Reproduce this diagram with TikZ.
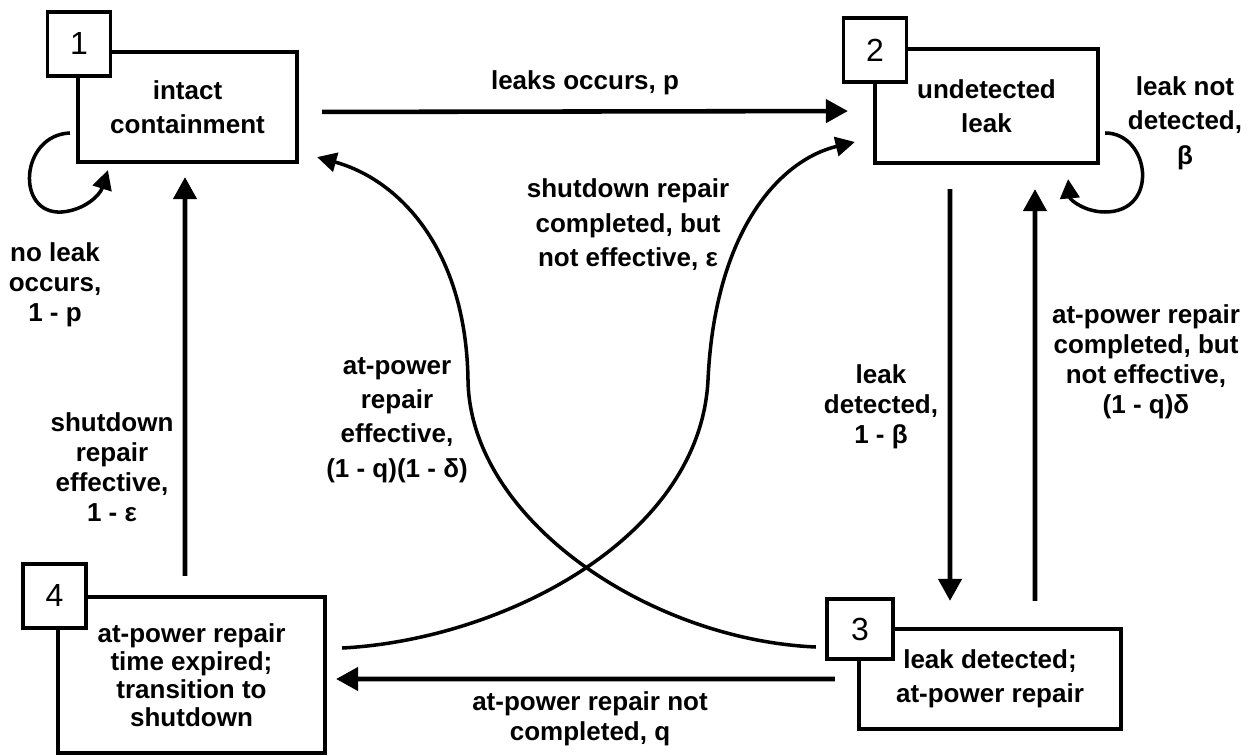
\documentclass[tikz,border=0pt]{standalone}
\usepackage{fontspec}
\setmainfont{Liberation Sans}
\usetikzlibrary{arrows.meta}
\newcommand{\numfont}{\fontsize{18.2}{20}\selectfont}
\newcommand{\lblfont}{\bfseries\fontsize{14.8}{17.1}\selectfont}
\newcommand{\lblwide}{\bfseries\fontsize{14.8}{19.6}\selectfont}
\newcommand{\lbltight}{\bfseries\fontsize{14.8}{16}\selectfont}
\tikzset{
    statebox/.style={draw, line width=2.4pt, align=center, font=\lblfont, inner sep=0pt},
    numbox/.style={draw, fill=white, line width=2pt, minimum width=1.26cm, minimum height=1.28cm, font=\numfont, inner sep=0pt},
    lbl/.style={align=center, font=\lblfont, inner sep=0pt},
    arr/.style={line width=2.6pt, -{Triangle[length=12.5pt, width=13pt]}},
    carr/.style={line width=2pt, -{Triangle[length=11pt, width=11pt]}}
}

\begin{document}
\begin{tikzpicture}[x=0.02cm, y=-0.02cm]
    \useasboundingbox (0,0) rectangle (1258,756);
    % states
    \node[statebox, minimum width=4.38cm, minimum height=2.2cm, font=\lblwide] (s1) at (187.5,107) {intact\\containment};
    \node[statebox, minimum width=4.46cm, minimum height=2.28cm, font=\lblwide] (s2) at (986.5,106) {undetected\\leak};
    \node[statebox, minimum width=5.24cm, minimum height=2cm, font=\lblwide] (s3) at (990,679) {leak detected;\\at-power repair};
    \node[statebox, minimum width=5.34cm, minimum height=3.12cm, font=\lbltight] (s4) at (191.5,675) {at-power repair\\time expired;\\transition to\\shutdown};
    % number tags
    \node[numbox] (k1) at (79,44) {1};
    \node[numbox] (k2) at (875,50) {2};
    \node[numbox, minimum width=1.32cm, minimum height=1.2cm] (k3) at (860,629) {3};
    \node[numbox] (k4) at (54.5,596) {4};

    % straight transitions
    \draw[arr, shorten <=0.46cm, shorten >=0.5cm] ([yshift=-0.1cm]s1.east) -- ([yshift=-0.1cm]s2.west);
    \draw[arr, shorten <=0.48cm, shorten >=0.52cm] ([xshift=-0.73cm]s2.south) -- ([xshift=-0.8cm]s3.north);
    \draw[arr, shorten <=0.52cm, shorten >=0.48cm] ([xshift=0.9cm]s3.north) -- ([xshift=0.97cm]s2.south);
    \draw[arr, shorten <=0.44cm, shorten >=0.18cm] (s3.west) -- ([yshift=-0.08cm]s4.east);
    \draw[arr, shorten <=0.38cm, shorten >=0.26cm] ([xshift=-0.13cm]s4.north) -- ([xshift=-0.05cm]s1.south);

    % self loops
    \draw[carr] ([xshift=-0.12cm, yshift=-0.52cm]s1.west) .. controls (20,135) and (15,215) .. (62,212)
        .. controls (85,210) and (100,195) .. ([xshift=0.64cm, yshift=-0.12cm]s1.south west);
    \draw[carr] ([xshift=0.1cm, yshift=-0.54cm]s2.east) .. controls (1150,133) and (1160,212) .. (1105,212)
        .. controls (1085,212) and (1070,200) .. ([xshift=-0.64cm, yshift=-0.28cm]s2.south east);

    % crossing curves
    \draw[carr] ([xshift=-0.82cm, yshift=0.64cm]s3.west) .. controls (650,640) and (470,520) .. (468,380)
        .. controls (466,250) and (400,180) .. ([xshift=0.36cm, yshift=0.14cm]s1.south east);
    \draw[carr] ([xshift=0.3cm, yshift=0.54cm]s4.east) .. controls (500,640) and (700,540) .. (708,380)
        .. controls (715,230) and (780,160) .. ([xshift=-0.36cm, yshift=-0.72cm]s2.west);

    % labels
    \node[lbl] (p12) at (585,83) {leaks occurs, p};
    \node[lbl, font=\lblwide] (p22) at (1185,123) {leak not\\detected,\\β};
    \node[lbl] (p11) at (55,285) {no leak\\occurs,\\1 - p};
    \node[lbl] (p41) at (112,467) {shutdown\\repair\\effective,\\1 - ε};
    \node[lbl, font=\lblwide] (p31) at (397,420) {at-power\\repair\\effective,\\(1 - q)(1 - δ)};
    \node[lbl, font=\lblwide] (p42) at (628,225) {shutdown repair\\completed, but\\not effective, ε};
    \node[lbl] (p23) at (881,407) {leak\\detected,\\1 - β};
    \node[lbl] (p32) at (1146,362) {at-power repair\\completed, but\\not effective,\\(1 - q)δ};
    \node[lbl] (p34) at (590,719) {at-power repair not\\completed, q};
\end{tikzpicture}
\end{document}
